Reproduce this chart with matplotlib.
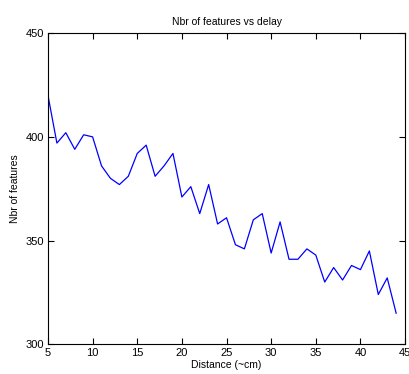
import matplotlib
matplotlib.use("Agg")
import matplotlib.pyplot as plt

# Data
distance = list(range(5, 45))
n_features = [420, 397, 402, 394, 401, 400, 386, 380, 377, 381,
              392, 396, 381, 386, 392, 371, 376, 363, 377, 358,
              361, 348, 346, 360, 363, 344, 359, 341, 341, 346,
              343, 330, 337, 331, 338, 336, 345, 324, 332, 315]

plt.rcParams['font.family'] = ['Liberation Sans', 'DejaVu Sans']

fig = plt.figure(figsize=(4.1, 3.74), dpi=100)
ax = fig.add_axes([0.117, 0.0794, 0.871, 0.832])
ax.plot(distance, n_features, color='#0000ff', linewidth=0.9)

ax.set_xlim(5, 45)
ax.set_ylim(300, 450)
ax.set_xticks(range(5, 50, 5))
ax.set_yticks([300, 350, 400, 450])
ax.tick_params(direction='in', top=True, right=True, labelsize=8, length=4, width=0.8, pad=3)
for s in ax.spines.values():
    s.set_linewidth(0.8)

ax.set_title("Nbr of features vs delay", fontsize=7.5, pad=6)
ax.set_xlabel("Distance (~cm)", fontsize=7.5, labelpad=1)
ax.set_ylabel("Nbr of features", fontsize=7.5, labelpad=4)

fig.savefig("out.png", dpi=100)
